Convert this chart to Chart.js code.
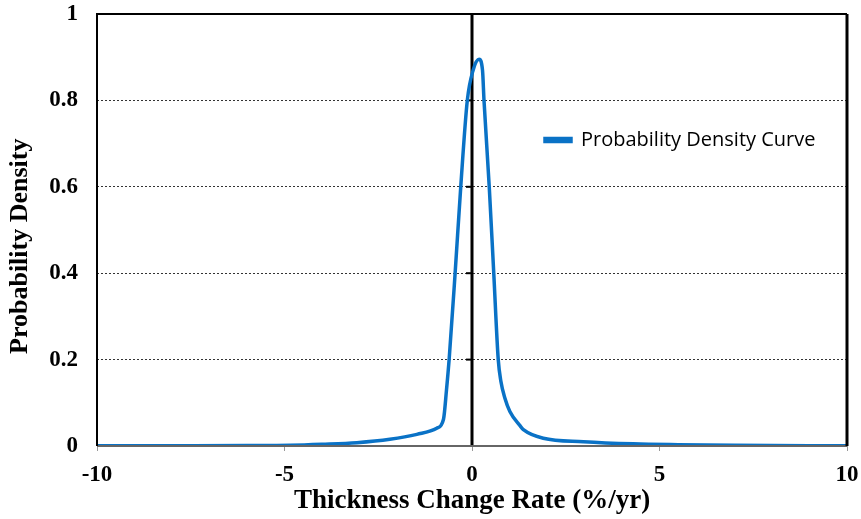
<!DOCTYPE html>
<html><head><meta charset="utf-8">
<script src="https://cdn.jsdelivr.net/npm/chart.js@4.4.1/dist/chart.umd.min.js"></script>
<style>html,body{margin:0;padding:0;background:#fff}#w{width:861px;height:519px}</style>
</head><body><div id="w"><canvas id="c"></canvas></div>
<script>
const seriesName = 'Probability Density Curve';
const rateX = [-10,-8,-6,-4.85,-4,-3.07,-2.19,-1.47,-0.94,-0.76,-0.68,-0.61,-0.45,-0.3,-0.125,0.03,0.19,0.28,0.32,0.46,0.58,0.7,0.77,0.88,1.01,1.28,1.37,1.9,2.97,4.3,5.5,7,10];
const density = [0.0003,0.0006,0.001,0.0017,0.004,0.0077,0.0155,0.027,0.041,0.062,0.13,0.2,0.4,0.6,0.8,0.87,0.895,0.87,0.8,0.6,0.4,0.2,0.15,0.11,0.08,0.047,0.038,0.018,0.01,0.005,0.003,0.0015,0.0005];
const xTicks = [-10,-5,0,5,10];
const yTicks = [0,0.2,0.4,0.6,0.8,1];

const frame = {
  id:'frame',
  beforeDatasetsDraw(chart){
    const {ctx, chartArea:a, scales} = chart;
    ctx.save();
    const x0 = scales.x.getPixelForValue(0);
    ctx.strokeStyle='#000'; ctx.lineWidth=3;
    ctx.beginPath(); ctx.moveTo(x0,a.top); ctx.lineTo(x0,a.bottom); ctx.stroke();
    ctx.lineWidth=2;
    yTicks.forEach(v=>{const y=scales.y.getPixelForValue(v);ctx.beginPath();ctx.moveTo(x0-6,y);ctx.lineTo(x0,y);ctx.stroke();});
    ctx.restore();
  },
  afterDraw(chart){
    const {ctx, chartArea:a} = chart;
    ctx.save();
    ctx.strokeStyle='#666'; ctx.lineWidth=2;
    ctx.beginPath(); ctx.moveTo(a.left,a.bottom); ctx.lineTo(a.right,a.bottom); ctx.stroke();
    ctx.strokeStyle='#000'; ctx.lineWidth=2;
    ctx.beginPath(); ctx.moveTo(a.left,a.bottom); ctx.lineTo(a.left,a.top); ctx.lineTo(a.right,a.top); ctx.stroke();
    ctx.lineWidth=3;
    ctx.beginPath(); ctx.moveTo(a.right,a.top); ctx.lineTo(a.right,a.bottom); ctx.stroke();
    ctx.restore();
  },
  afterLayout(chart){
    const lg = chart.legend; if(!lg) return;
    const w = lg.width, h = lg.height;
    lg.left = 535; lg.right = 535 + w; lg.top = 120; lg.bottom = 120 + h;
  }
};

const serif = '"Liberation Serif","Times New Roman",serif';
new Chart(document.getElementById('c'), {
  type:'line',
  data:{datasets:[{label:seriesName,data:rateX.map((x,i)=>({x:x,y:density[i]})),borderColor:'#0A72C6',backgroundColor:'#0A72C6',borderWidth:3.5,pointRadius:0,cubicInterpolationMode:'monotone',fill:false}]},
  options:{
    responsive:true, maintainAspectRatio:false, animation:false,
    layout:{padding:{top:14,right:14,left:0,bottom:0}},
    plugins:{
      legend:{position:'chartArea',align:'start',labels:{boxWidth:26,boxHeight:3,padding:10,color:'#000',font:{family:'"Open Sans","Noto Sans",sans-serif',size:20}}},
      tooltip:{enabled:false}
    },
    scales:{
      x:{type:'linear',min:-10,max:10,
        afterBuildTicks:s=>{s.ticks=xTicks.map(v=>({value:v}));},
        afterFit:s=>{s.height=73;s.paddingLeft=0;s.paddingRight=0;},
        grid:{drawOnChartArea:false,drawTicks:true,tickLength:5,color:'#999',lineWidth:1},
        border:{display:false},
        ticks:{padding:10,color:'#000',maxRotation:0,font:{family:serif,size:23,weight:'bold'}},
        title:{display:true,text:'Thickness Change Rate (%/yr)',color:'#000',padding:{top:0,bottom:2},font:{family:serif,size:27,weight:'bold'}}
      },
      y:{min:0,max:1,
        afterBuildTicks:s=>{s.ticks=yTicks.map(v=>({value:v}));},
        afterFit:s=>{s.width=97;s.paddingTop=0;s.paddingBottom=0;},
        grid:{drawTicks:false,tickLength:0,color:c=>(c.tick&&(c.tick.value===0||c.tick.value===1))?'rgba(0,0,0,0)':'#333',lineWidth:1},
        border:{display:false,dash:[2,2]},
        ticks:{padding:19,color:'#000',font:{family:serif,size:23,weight:'bold'},callback:v=>String(v)},
        title:{display:true,text:'Probability Density     ',color:'#000',padding:{top:5,bottom:0},font:{family:serif,size:26,weight:'bold'}}
      }
    }
  },
  plugins:[frame]
});
</script></body></html>
